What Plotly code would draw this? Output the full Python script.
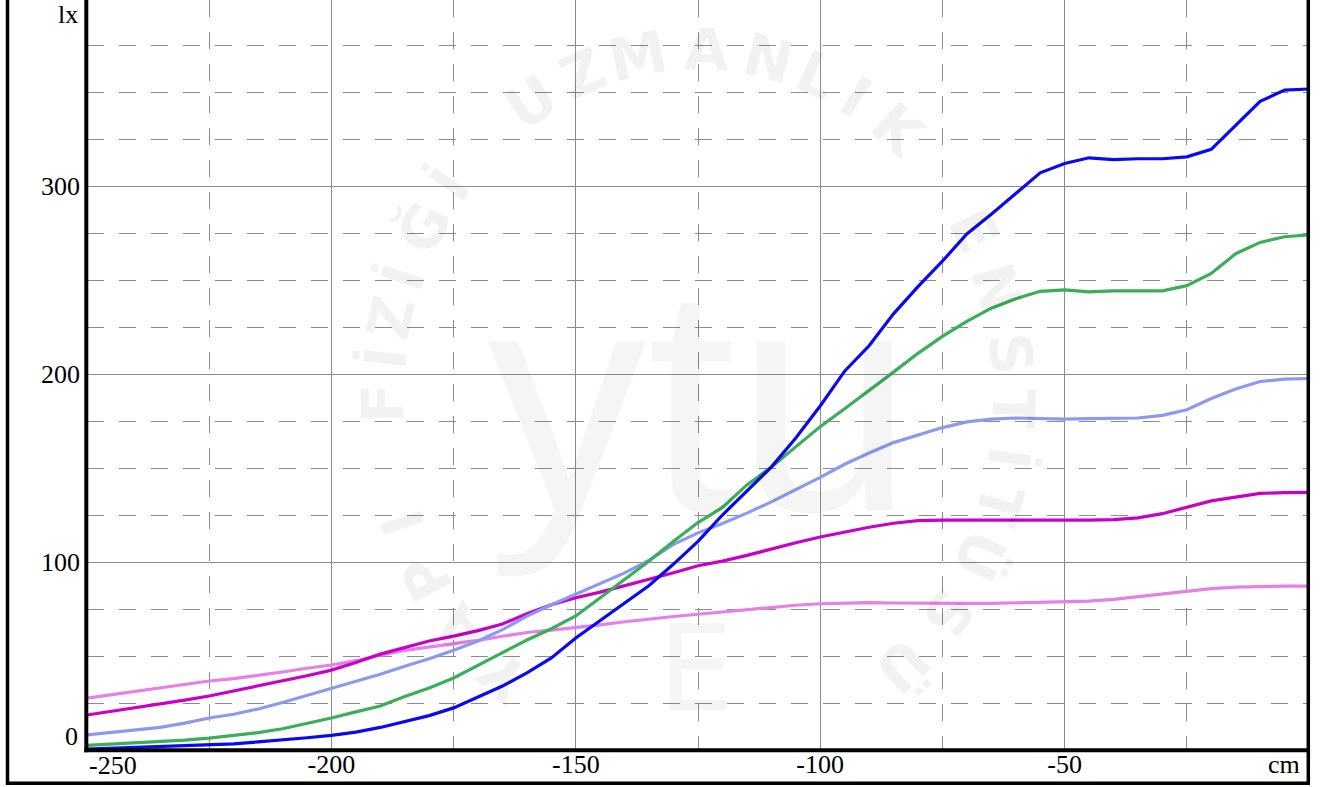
import math
import plotly.graph_objects as go

# ---------------- data ----------------
x_cm = list(range(-250, 1, 5))

series_blue = [0.5, 1.0, 1.5, 2.0, 2.3, 2.6, 3.3, 4.3, 5.3, 6.5, 7.8, 9.5, 12.0, 15.0, 18.3,
               22.4, 28.0, 34.0, 41.0, 49.0, 59.6, 69.0, 78.0, 87.5, 98.9, 111.0, 125.0, 138.0,
               150.5, 166.0, 183.0, 201.5, 215.0, 232.0, 246.5, 260.0, 274.5, 285.0, 296.0, 307.0,
               312.0, 315.0, 314.0, 314.5, 314.5, 315.5, 319.5, 332.0, 345.0, 351.0, 351.6]
series_green = [2.5, 3.1, 3.8, 4.5, 5.3, 6.3, 7.6, 9.2, 11.3, 14.0, 17.0, 20.3, 23.4, 28.5, 33.0,
                38.3, 45.0, 52.0, 58.5, 64.5, 71.3, 81.0, 90.5, 100.5, 111.0, 121.0, 129.0, 141.0,
                150.5, 161.0, 172.0, 181.5, 191.0, 201.0, 211.0, 220.0, 228.0, 235.0, 240.0, 244.0,
                244.7, 243.7, 244.2, 244.4, 244.2, 247.0, 253.5, 264.0, 270.0, 273.0, 274.0]
series_lightblue = [8.0, 9.2, 10.5, 12.0, 14.3, 17.0, 19.0, 21.8, 25.3, 29.0, 32.5, 36.5, 40.3, 44.5,
                    48.5, 53.0, 58.0, 64.0, 71.2, 77.3, 83.0, 88.4, 94.2, 101.0, 109.4, 115.5, 120.5,
                    126.0, 132.0, 138.5, 145.0, 152.0, 158.0, 163.5, 167.5, 171.5, 174.5, 176.0,
                    176.6, 176.3, 176.0, 176.3, 176.6, 176.6, 178.0, 181.0, 187.0, 192.0, 196.0,
                    197.3, 197.6]
series_magenta = [18.6, 20.5, 22.5, 24.5, 26.5, 28.7, 31.3, 34.0, 36.5, 39.5, 42.5, 46.5, 51.0, 54.3,
                  58.0, 60.6, 63.5, 67.0, 72.5, 77.3, 81.0, 84.0, 87.3, 91.0, 94.3, 98.0, 100.5,
                  103.5, 107.0, 110.2, 113.3, 116.0, 118.5, 120.6, 122.0, 122.3, 122.3, 122.0, 122.0,
                  122.2, 122.3, 122.3, 122.5, 123.5, 125.7, 129.0, 132.5, 134.5, 136.5, 136.9, 137.0]
series_violet = [27.6, 29.5, 31.4, 33.0, 35.0, 36.7, 38.0, 39.6, 41.5, 43.5, 45.2, 47.5, 50.5, 53.0,
                 54.8, 56.4, 58.3, 60.5, 62.5, 63.8, 65.0, 66.6, 68.2, 69.7, 71.0, 72.2, 73.5, 74.5,
                 76.0, 77.0, 77.8, 78.2, 78.4, 78.2, 78.0, 77.8, 78.0, 78.0, 78.2, 78.4, 78.6, 79.2,
                 80.1, 81.5, 83.0, 84.6, 85.8, 86.6, 87.0, 87.2, 87.2]

x_tick_vals = [-200, -150, -100, -50]
y_tick_vals = [100, 200, 300]
x_unit = "cm"
y_unit = "lx"

# watermark text (decorative)
wm_letters = list("YAPIFİZİĞİUZMANLIKENSTİTÜSÜ")
wm_angles = [-142, -131, -120.5, -110.5, -90.5, -83, -76.5, -69.5, -60.5, -52,
             -32, -21.5, -11, 1.5, 13, 22, 30, 39.5, 61, 71.5, 82.5, 91.5, 99.5,
             107.5, 116.5, 127.5, 139.5]

# ---------------- layout geometry ----------------
W, H = 1328, 787
L, R, T, B = 87, 19, 0, 37
PW, PH = W - L - R, H - T - B


def px_x(px):
    return (px - L) / PW


def px_y(py):
    return (T + PH - py) / PH


SERIF = "Liberation Serif"
GRID = "#8c8c8c"

fig = go.Figure()
for name, color, vals in [
    ("violet", "#e67fe6", series_violet),
    ("magenta", "#c800c8", series_magenta),
    ("lightblue", "#8b9af0", series_lightblue),
    ("green", "#3aae58", series_green),
    ("blue", "#0a0aee", series_blue),
]:
    fig.add_trace(go.Scatter(x=x_cm, y=vals, mode="lines", name=name,
                             line=dict(color=color, width=3.2),
                             showlegend=False, hoverinfo="skip"))

fig.update_layout(
    width=W, height=H,
    margin=dict(l=L, r=R, t=T, b=B, pad=0),
    paper_bgcolor="white", plot_bgcolor="white",
    showlegend=False,
    xaxis=dict(range=[-250, 0], tickmode="array", tickvals=x_tick_vals,
               ticktext=[str(v) for v in x_tick_vals],
               tickfont=dict(family=SERIF, size=26, color="black"),
               ticks="", showline=False, zeroline=False,
               showgrid=True, gridcolor=GRID, gridwidth=1.4,
               minor=dict(tickmode="linear", tick0=0, dtick=25, showgrid=True,
                          gridcolor=GRID, gridwidth=1.4, griddash="17px,15px", ticks=""),
               ticklabelstandoff=-4),
    yaxis=dict(range=[0, PH / 1.88], tickmode="array", tickvals=y_tick_vals,
               ticktext=[str(v) for v in y_tick_vals],
               tickfont=dict(family=SERIF, size=26, color="black"),
               ticks="", showline=False, zeroline=False,
               showgrid=True, gridcolor=GRID, gridwidth=1.4,
               minor=dict(tickmode="linear", tick0=0, dtick=25, showgrid=True,
                          gridcolor=GRID, gridwidth=1.4, griddash="17px,15px", ticks=""),
               ticklabelstandoff=6),
)

# frame lines
shapes = [
    dict(type="line", xref="paper", yref="paper", x0=px_x(86.3), x1=px_x(86.3),
         y0=px_y(752.3), y1=1.02, line=dict(color="black", width=4), layer="above"),
    dict(type="line", xref="paper", yref="paper", x0=px_x(84.3), x1=px_x(1309),
         y0=px_y(750.3), y1=px_y(750.3), line=dict(color="black", width=4), layer="above"),
    dict(type="rect", xref="paper", yref="paper", x0=px_x(7.5), x1=px_x(1308.3),
         y0=px_y(783.3), y1=1.05, line=dict(color="black", width=3.5),
         fillcolor="rgba(0,0,0,0)", layer="above"),
]
fig.update_layout(shapes=shapes)

ann = []
# watermark
cx, cy, rx, ry = 698, 400, 315, 350
WM = "rgba(0,0,0,0.05)"
for ch, t in zip(wm_letters, wm_angles):
    tr = math.radians(t)
    px = cx + rx * math.sin(tr)
    py = cy - ry * math.cos(tr)
    rot = math.degrees(math.atan2(math.sin(tr) / rx, math.cos(tr) / ry))
    ann.append(dict(text=ch, xref="paper", yref="paper", x=px_x(px), y=px_y(py),
                    xanchor="center", yanchor="middle", showarrow=False, textangle=rot,
                    font=dict(family="DejaVu Sans", size=58, color=WM, weight="bold")))
ann.append(dict(text="ytu", xref="paper", yref="paper", x=px_x(700), y=px_y(400),
                xanchor="center", yanchor="middle", showarrow=False,
                font=dict(family="Liberation Sans", size=320, color="rgba(0,0,0,0.04)")))
ann.append(dict(text="E", xref="paper", yref="paper", x=px_x(696), y=px_y(668),
                xanchor="center", yanchor="middle", showarrow=False,
                font=dict(family="DejaVu Sans", size=120, color="rgba(0,0,0,0.04)")))

# special labels
lab = dict(family=SERIF, size=26, color="black")
ann.append(dict(text="-250", xref="x", yref="paper", x=-250, y=px_y(765), xanchor="left",
                yanchor="middle", showarrow=False, font=lab))
ann.append(dict(text=x_unit, xref="paper", yref="paper", x=px_x(1302), y=px_y(764),
                xanchor="right", yanchor="middle", showarrow=False, font=lab))
ann.append(dict(text="0", xref="paper", yref="paper", x=px_x(80), y=px_y(736),
                xanchor="right", yanchor="middle", showarrow=False, font=lab))
ann.append(dict(text=y_unit, xref="paper", yref="paper", x=px_x(79.5), y=px_y(14),
                xanchor="right", yanchor="middle", showarrow=False, font=lab))
fig.update_layout(annotations=ann)

fig.write_html("out.html", config={"displayModeBar": False},
               post_script="document.body.style.margin='0px';")
